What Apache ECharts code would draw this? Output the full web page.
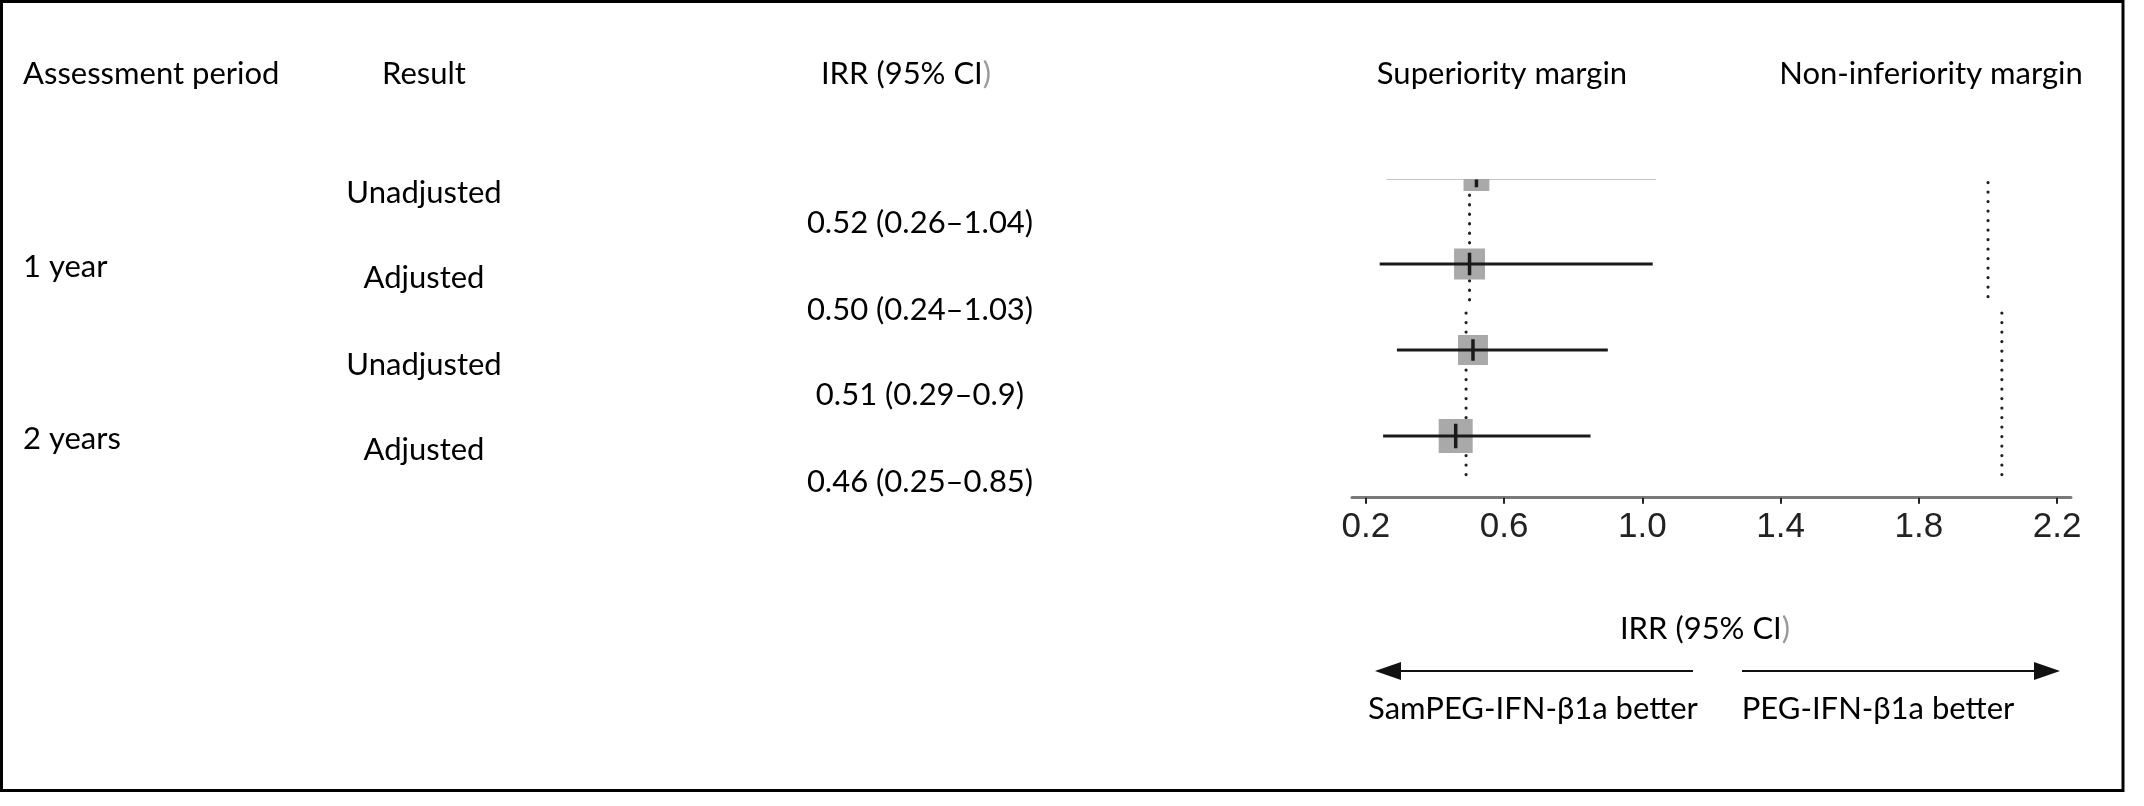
<!DOCTYPE html>
<html><head><meta charset="utf-8">
<script src="https://cdn.jsdelivr.net/npm/echarts/dist/echarts.min.js"></script>
<style>html,body{margin:0;padding:0;background:#fff}#c{width:2144px;height:806px}</style>
</head><body><div id="c"></div>
<script>
// ---- data ----
const periods = ['1 year', '2 years'];
const results = ['Unadjusted', 'Adjusted', 'Unadjusted', 'Adjusted'];
const irr = [0.52, 0.50, 0.51, 0.46];
const lower = [0.26, 0.24, 0.29, 0.25];
const upper = [1.04, 1.03, 0.90, 0.85];
const irrLabels = ['0.52 (0.26–1.04)', '0.50 (0.24–1.03)', '0.51 (0.29–0.9)', '0.46 (0.25–0.85)'];
const boxWeights = [0.76, 0.91, 0.88, 1.0];
const xTicks = [0.2, 0.6, 1.0, 1.4, 1.8, 2.2];
const superiorityX = [0.50, 0.49];
const nonInferiorityX = [2.00, 2.04];
const marginRowSpans = [[1.2, 2.47], [2.57, 4.47]];
const nonInfRowSpans = [[0.5, 2.47], [2.57, 4.47]];

// ---- layout ----
const FONT = 'Lato';
const FS = 31;
const gridLeft = 1352, gridWidth = 719, gridTop = 179.5, gridBottom = 497.7;
const row1Y = 178, rowGap = 86;
const yMin = 1 + (gridTop - row1Y) / rowGap;
const yMax = yMin + (gridBottom - gridTop) / rowGap;
const maxBox = 34;

const chart = echarts.init(document.getElementById('c'), null, {renderer: 'canvas'});

const rows = irr.map((v, i) => [i + 1, v, lower[i], upper[i], boxWeights[i]]);

function txt(text, x, y, align, extra) {
  return {
    type: 'text', x: x, y: y, z: 10,
    style: Object.assign({text: text, fontFamily: FONT, fontSize: FS, fill: '#000',
      align: align || 'center', verticalAlign: 'middle'}, extra || {})
  };
}
const grayParen = {rich: {g: {fill: '#9a9a9a', fontFamily: FONT, fontSize: FS}}};

const graphics = [
  {type: 'rect', shape: {x: 1.5, y: 1.5, width: 2121.5, height: 789}, style: {fill: null, stroke: '#000', lineWidth: 3}, z: 1},
  txt('Assessment period', 23, 74, 'left'),
  txt('Result', 424, 74),
  txt('IRR (95% CI{g|)}', 906, 74, 'center', grayParen),
  txt('Superiority margin', 1502, 74),
  txt('Non-inferiority margin', 1931, 74),
  txt('IRR (95% CI{g|)}', 1705, 629, 'center', grayParen),
  txt('SamPEG-IFN-β1a better', 1533, 709),
  txt('PEG-IFN-β1a better', 1878, 709),
  {type: 'line', shape: {x1: 1395, y1: 671, x2: 1693, y2: 671}, style: {stroke: '#111', lineWidth: 2}},
  {type: 'polygon', shape: {points: [[1375, 671], [1401, 662], [1401, 680]]}, style: {fill: '#111'}},
  {type: 'line', shape: {x1: 1742, y1: 671, x2: 2040, y2: 671}, style: {stroke: '#111', lineWidth: 2}},
  {type: 'polygon', shape: {points: [[2060, 671], [2034, 662], [2034, 680]]}, style: {fill: '#111'}}
];
const periodY = [267, 439];
periods.forEach((p, i) => graphics.push(txt(p, 23, periodY[i], 'left')));
const resultY = [193, 278, 365, 450];
results.forEach((r, i) => graphics.push(txt(r, 424, resultY[i])));
const irrY = [223, 310, 395, 482];
irrLabels.forEach((t, i) => graphics.push(txt(t, 920, irrY[i])));

function marginSeries(xs, spans) {
  return xs.map((x, i) => ({
    type: 'line', z: 2, clip: true, symbol: 'none', silent: true,
    data: [[x, spans[i][0]], [x, spans[i][1]]],
    lineStyle: {color: '#222', width: 3.2, type: [0.1, 9.4], cap: 'round'}
  }));
}

chart.setOption({
  animation: false,
  backgroundColor: '#fff',
  grid: {left: gridLeft, top: gridTop, width: gridWidth, height: gridBottom - gridTop, containLabel: false},
  xAxis: {
    type: 'value', min: 0.16, max: 2.24, position: 'bottom',
    axisLine: {show: true, onZero: false, lineStyle: {color: '#7a7a7a', width: 3}},
    axisTick: {show: true, customValues: xTicks, length: 6, lineStyle: {color: '#222', width: 2}},
    axisLabel: {show: true, customValues: xTicks, formatter: v => v.toFixed(1),
      fontFamily: 'Liberation Sans', fontSize: 35, color: '#222', margin: 12},
    splitLine: {show: false}
  },
  yAxis: {type: 'value', inverse: true, min: yMin, max: yMax, show: false, splitLine: {show: false}},
  graphic: graphics,
  series: [
    ...marginSeries(superiorityX, marginRowSpans),
    ...marginSeries(nonInferiorityX, nonInfRowSpans),
    {
      type: 'custom', z: 3, clip: true, silent: true,
      data: rows,
      renderItem: function (params, api) {
        const r = api.value(0), v = api.value(1), lo = api.value(2), hi = api.value(3), w = api.value(4);
        const c = api.coord([v, r]);
        const cl = api.coord([lo, r]);
        const ch = api.coord([hi, r]);
        const s = w * maxBox;
        return {type: 'group', children: [
          {type: 'rect', shape: {x: c[0] - s / 2, y: c[1] - s / 2, width: s, height: s}, style: {fill: '#a9a9a9'}},
          {type: 'line', shape: {x1: cl[0], y1: c[1], x2: ch[0], y2: c[1]}, style: {stroke: '#1a1a1a', lineWidth: 3}},
          {type: 'line', shape: {x1: c[0], y1: c[1] - s * 0.36, x2: c[0], y2: c[1] + s * 0.36}, style: {stroke: '#1a1a1a', lineWidth: 3.5}}
        ]};
      }
    }
  ]
});
</script></body></html>
